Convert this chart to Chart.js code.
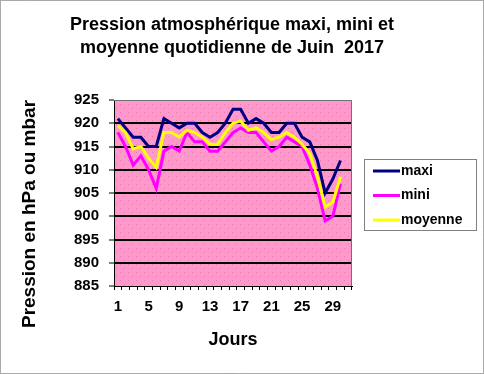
<!DOCTYPE html>
<html>
<head>
<meta charset="utf-8">
<script src="https://cdn.jsdelivr.net/npm/chart.js@4.4.0/dist/chart.umd.min.js"></script>
<style>
  html, body { margin: 0; padding: 0; background: #fff; }
  #wrap { width: 484px; height: 374px; }
</style>
</head>
<body>
<div id="wrap"><canvas id="chart" width="484" height="374"></canvas></div>
<script>
// jours du mois (31 cases sur l'axe, 30 valeurs)
const jours = ["1","2","3","4","5","6","7","8","9","10","11","12","13","14","15","16",
  "17","18","19","20","21","22","23","24","25","26","27","28","29","30","31"];
const maxi = [921, 919, 917, 917, 915, 915, 921, 920, 919, 920, 920, 918, 917, 918, 920,
  923, 923, 920, 921, 920, 918, 918, 920, 920, 917, 916, 912, 905, 908, 912];
const mini = [918, 915, 911, 913, 910, 906, 914, 915, 914, 918, 916, 916, 914, 914, 916,
  918, 919, 918, 918, 916, 914, 915, 917, 916, 915, 911, 906, 899, 900, 907];
const moyenne = [919.5, 918, 914.5, 915, 912.5, 910.5, 918, 918, 917, 918.5, 918, 917, 915.5, 915.5, 918,
  920, 920.5, 918.5, 919, 918, 916.5, 917, 918, 917, 915.5, 913.5, 908.5, 902, 903, 908.5];
const yMin = 885, yMax = 925, yStep = 5;

const FONT = '"Liberation Sans", Arial, sans-serif';
const titre = ["Pression atmosphérique maxi, mini et", "moyenne quotidienne de Juin  2017"];
const titreY = "Pression en hPa ou mbar";

let pink = null;
function pinkPattern(ctx){
  if(pink){ return pink; }
  const c = document.createElement("canvas");
  c.width = 8; c.height = 8;
  const p = c.getContext("2d");
  p.fillStyle = "#FF99CC";
  p.fillRect(0, 0, 8, 8);
  p.fillStyle = "#E878B0";
  p.fillRect(0, 0, 1, 1);
  p.fillRect(4, 4, 1, 1);
  pink = ctx.createPattern(c, "repeat");
  return pink;
}

const decor = {
  id: "decor",
  beforeDraw(chart){
    const {ctx, chartArea: a} = chart;
    ctx.save();
    ctx.fillStyle = "#fff";
    ctx.fillRect(0, 0, chart.width, chart.height);
    ctx.fillStyle = pinkPattern(ctx);
    ctx.fillRect(a.left, a.top, a.right - a.left, a.bottom - a.top);
    ctx.restore();
  },
  afterDraw(chart){
    const {ctx, chartArea: a} = chart;
    ctx.save();

    // bord haut et droit de la zone de tracé
    ctx.strokeStyle = "#707070";
    ctx.lineWidth = 1;
    ctx.beginPath();
    ctx.moveTo(a.left, a.top + 0.5);
    ctx.lineTo(a.right - 0.5, a.top + 0.5);
    ctx.lineTo(a.right - 0.5, a.bottom);
    ctx.stroke();

    // titre
    ctx.fillStyle = "#000";
    ctx.font = "bold 18px " + FONT;
    ctx.textAlign = "center";
    ctx.textBaseline = "alphabetic";
    ctx.fillText(titre[0], 232, 30);
    ctx.fillText(titre[1], 232, 53);

    // titre de l'axe vertical
    ctx.save();
    ctx.translate(30, 214);
    ctx.rotate(-Math.PI / 2);
    ctx.font = "bold 19px " + FONT;
    ctx.textBaseline = "middle";
    ctx.fillText(titreY, 0, 0);
    ctx.restore();

    // légende
    ctx.fillStyle = "#fff";
    ctx.fillRect(364.5, 159.5, 112, 71);
    ctx.strokeStyle = "#808080";
    ctx.strokeRect(364.5, 159.5, 112, 71);
    ctx.font = "bold 14px " + FONT;
    ctx.textAlign = "left";
    ctx.textBaseline = "middle";
    chart.data.datasets.forEach((ds, i)=>{
      const y = 171 + i * 24.5;
      ctx.strokeStyle = ds.borderColor;
      ctx.lineWidth = 3;
      ctx.beginPath();
      ctx.moveTo(373, y);
      ctx.lineTo(400, y);
      ctx.stroke();
      ctx.fillStyle = "#000";
      ctx.fillText(ds.label, 401, y);
    });

    // cadre pointillé
    ctx.setLineDash([1, 1]);
    ctx.strokeStyle = "#555";
    ctx.lineWidth = 1;
    ctx.strokeRect(0.5, 0.5, chart.width - 1, chart.height - 1);
    ctx.restore();
  }
};

const ctx = document.getElementById("chart").getContext("2d");
new Chart(ctx, {
  type: "line",
  data: {
    labels: jours,
    datasets: [
      {label: "maxi", data: maxi, borderColor: "#000080", order: 2},
      {label: "mini", data: mini, borderColor: "#FF00FF", order: 1},
      {label: "moyenne", data: moyenne, borderColor: "#FFFF00", order: 0}
    ]
  },
  options: {
    responsive: false,
    animation: false,
    devicePixelRatio: 1,
    layout: {padding: {left: 0, top: 100, right: 132, bottom: 0}},
    elements: {
      line: {borderWidth: 3, tension: 0, fill: false},
      point: {radius: 0}
    },
    plugins: {
      legend: {display: false},
      title: {display: false},
      tooltip: {enabled: false}
    },
    scales: {
      x: {
        type: "category",
        offset: true,
        afterFit: (s)=>{ s.height = 88; },
        grid: {
          offset: true,
          drawOnChartArea: false,
          tickLength: 4,
          tickColor: "#000",
          tickWidth: 1
        },
        border: {display: true, color: "#000", width: 1},
        ticks: {
          autoSkip: false,
          maxRotation: 0,
          padding: 8,
          color: "#000",
          font: {family: FONT, size: 15, weight: "bold"},
          callback: function(v, i){ return i % 4 === 0 ? this.getLabelForValue(v) : ""; }
        },
        title: {
          display: true,
          text: "Jours",
          color: "#000",
          font: {family: FONT, size: 18, weight: "bold"},
          padding: {top: 0, bottom: 23}
        }
      },
      y: {
        min: yMin,
        max: yMax,
        afterFit: (s)=>{ s.width = 114; },
        grid: {
          color: (c)=> (c.tick && (c.tick.value === yMin || c.tick.value === yMax)) ? "rgba(0,0,0,0)" : "#000",
          lineWidth: 2,
          tickLength: 5,
          tickColor: "#000",
          tickWidth: 1
        },
        border: {display: true, color: "#000", width: 1},
        ticks: {
          stepSize: yStep,
          padding: 10,
          color: "#000",
          font: {family: FONT, size: 15, weight: "bold"}
        }
      }
    }
  },
  plugins: [decor]
});
</script>
</body>
</html>
